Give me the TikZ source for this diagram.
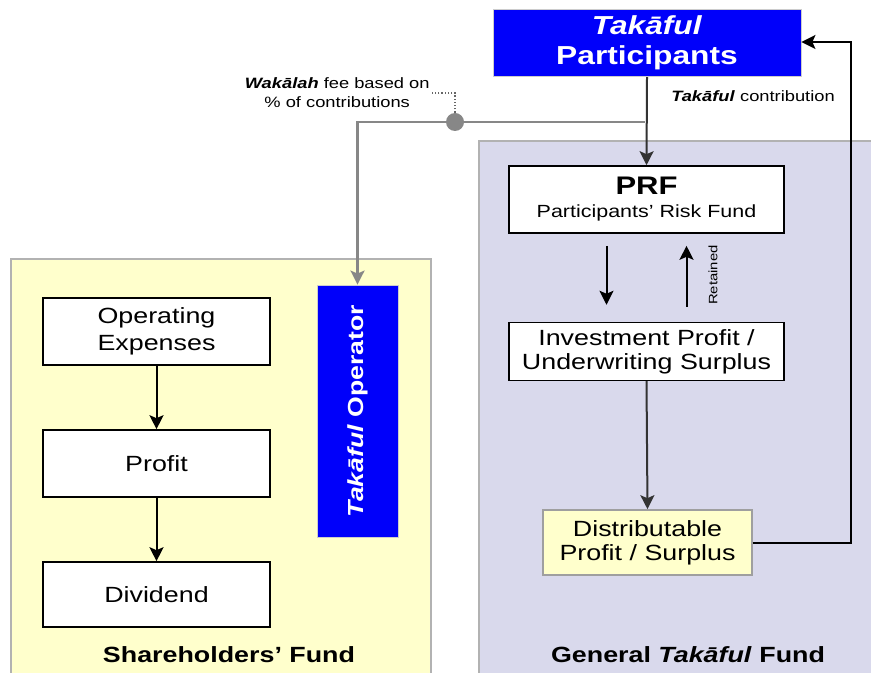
\documentclass[tikz,border=0pt]{standalone}
\usepackage{fontspec}
\setmainfont[FakeStretch=1.22]{Liberation Sans}
\usetikzlibrary{arrows, arrows.meta, positioning}
\definecolor{fundYellow}{RGB}{255,255,204}
\definecolor{fundLilac}{RGB}{217,217,236}
\definecolor{takBlue}{RGB}{0,0,250}
\definecolor{feeGray}{RGB}{135,135,135}

\begin{document}
\begin{tikzpicture}[x=0.5pt,y=-0.5pt]
		\tikzstyle{Fund} = [rectangle, anchor=north west, draw=gray!60, line width=0.8pt, inner sep=0pt]
		\tikzstyle{FlowBox} = [rectangle, minimum width=113.5pt, minimum height=33.5pt, text centered, align=center, draw=black, line width=0.8pt, fill=white, font=\fontsize{11}{13.5}\selectfont]
		\tikzstyle{BlueBox} = [rectangle, text centered, align=center, draw=gray!40, fill=takBlue, text=white, font=\bfseries]
		\tikzstyle{FundLabel} = [font=\fontsize{11}{12}\selectfont\bfseries]
		\tikzstyle{arrow} = [line width=1pt,-{Stealth[length=7pt,width=7pt,inset=1.5pt]}]
		\tikzstyle{feeArrow} = [feeGray, line width=1.1pt,-{Stealth[length=7pt,width=7pt,inset=1.5pt]}]
		
		\useasboundingbox (0,0) rectangle (871,673);
		\fill[white] (0,0) rectangle (871,673);
		
		% the two funds
		\node (shareFund) [Fund, fill=fundYellow, minimum width=210pt, minimum height=215pt] at (10,258) {};
		\node (genFund) [Fund, fill=fundLilac, minimum width=205pt, minimum height=270pt] at (478,140) {};
		\node (shareLabel) [FundLabel] at (229,655) {Shareholders’ Fund};
		\node (genLabel) [FundLabel] at (688,655) {General \textit{Takāful} Fund};
		
		% participants and operator
		\node (partNode) [BlueBox, minimum width=154pt, minimum height=33.5pt, font=\fontsize{13}{15}\selectfont\bfseries] at (647,43) {\textit{Takāful}\\Participants};
		\node (opNode) [BlueBox, rotate=90, minimum width=126pt, minimum height=40.5pt, font=\fontsize{10.9}{13}\selectfont\bfseries] at (357.5,411) {\textit{Takāful} Operator};
		
		% general fund side
		\node (prfNode) [FlowBox, minimum width=137.5pt] at (646.5,199.5) {{\fontsize{12.7}{13}\selectfont\bfseries PRF}\\[-2pt]{\fontsize{8.8}{9}\selectfont Participants’ Risk Fund}};
		\node (investNode) [FlowBox, minimum width=137.5pt, minimum height=26.5pt, font=\fontsize{11}{12}\selectfont] at (646.5,351.5) {Investment Profit /\\Underwriting Surplus};
		\node (distNode) [FlowBox, minimum width=104.5pt, minimum height=32.5pt, fill=fundYellow, draw=gray!75, font=\fontsize{11}{12}\selectfont] at (647.5,542.5) {Distributable\\Profit / Surplus};
		\node (retainedLabel) [rotate=90, font=\fontsize{6.1}{7}\selectfont] at (713,275) {Retained};
		
		% shareholders side
		\node (opExNode) [FlowBox] at (156.5,331.5) {Operating\\Expenses};
		\node (profitNode) [FlowBox] at (156.5,463.5) {Profit};
		\node (divNode) [FlowBox, minimum height=32.5pt] at (156.5,594.5) {Dividend};
		
		% labels
		\node (feeLabel) [anchor=east, align=center, inner sep=1pt, font=\fontsize{7.5}{9.5}\selectfont] at (432,93) {\textbf{\textit{Wakālah}} fee based on\\\% of contributions};
		\node (contribLabel) [font=\fontsize{7.5}{8}\selectfont] at (753,96) {\textbf{\textit{Takāful}} contribution};
		
		\coordinate (feeJoin) at (645,122);
		\coordinate (retTurn) at (851,42);
		
		\draw [feeArrow] (feeJoin) -| (opNode.east);
		\node (feeDot) [circle, fill=feeGray, inner sep=0pt, minimum size=9pt] at (455,122) {};
		\draw [densely dotted, gray!80!black, line width=0.6pt] (feeDot) |- (feeLabel.east);
		
		\draw [arrow, black!80] (partNode.south) -- (prfNode.north);
		\draw [arrow] ([xshift=-20pt,yshift=-6pt]prfNode.south) -- ([xshift=-20pt,yshift=8.5pt]investNode.north);
		\draw [arrow] ([xshift=20pt,yshift=7.5pt]investNode.north) -- ([xshift=20pt,yshift=-6pt]prfNode.south);
		\draw [arrow, black!80] (investNode.south) -- (distNode.north);
		\draw [arrow] (distNode.east) -| (retTurn) -- (partNode.east |- retTurn);
		\draw [arrow] (opExNode) -- (profitNode);
		\draw [arrow] (profitNode) -- (divNode);
\end{tikzpicture}
\end{document}
